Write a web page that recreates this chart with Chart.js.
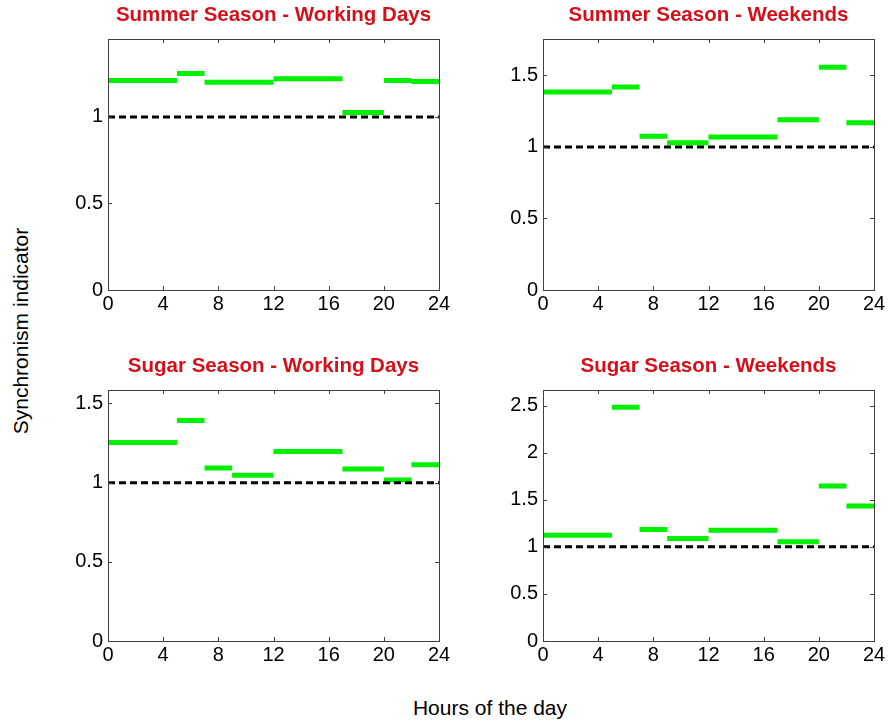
<!DOCTYPE html>
<html>
<head>
<meta charset="utf-8">
<script src="https://cdn.jsdelivr.net/npm/chart.js@4/dist/chart.umd.min.js"></script>
<style>
  body { margin: 0; background: #fff; width: 888px; height: 724px; position: relative; overflow: hidden; font-family: "Liberation Sans", Arial, sans-serif; }
  .box { position: absolute; width: 431px; height: 320px; }
  .ylab { position: absolute; left: 21px; top: 331px; transform: translate(-50%, -50%) rotate(-90deg); font-size: 21px; white-space: nowrap; color: #000; }
  .xlab { position: absolute; left: 490px; top: 708px; transform: translate(-50%, -50%); font-size: 21px; white-space: nowrap; color: #000; }
</style>
</head>
<body>
<div class="box" style="left:58px;top:0px"><canvas id="c1"></canvas></div>
<div class="box" style="left:493px;top:0px"><canvas id="c2"></canvas></div>
<div class="box" style="left:58px;top:351px"><canvas id="c3"></canvas></div>
<div class="box" style="left:493px;top:351px"><canvas id="c4"></canvas></div>
<div class="ylab">Synchronism indicator</div>
<div class="xlab">Hours of the day</div>
<script>
// hour boundaries of the periods
const hourEdges = [0, 5, 7, 9, 12, 17, 20, 22, 24];
const hourTicks = [0, 4, 8, 12, 16, 20, 24];

// synchronism indicator per period
const summerWorking  = [1.21, 1.25, 1.20, 1.20, 1.22, 1.025, 1.21, 1.205];
const summerWeekends = [1.385, 1.42, 1.075, 1.03, 1.07, 1.19, 1.557, 1.17];
const sugarWorking   = [1.254, 1.393, 1.093, 1.046, 1.197, 1.086, 1.017, 1.113];
const sugarWeekends  = [1.123, 2.483, 1.183, 1.088, 1.176, 1.053, 1.646, 1.434];

const titles = ['Summer Season - Working Days', 'Summer Season - Weekends',
                'Sugar Season - Working Days', 'Sugar Season - Weekends'];
const yMax = [1.45, 1.755, 1.585, 2.665];
const reference = 1;

const innerTicks = {
    id: 'innerTicks',
    afterDraw(chart) {
        const ctx = chart.ctx, a = chart.chartArea;
        const xs = chart.scales.x, ys = chart.scales.y;
        ctx.save();
        ctx.strokeStyle = '#404040';
        ctx.lineWidth = 1;
        ctx.strokeRect(a.left + 0.5, a.top + 0.5, a.right - a.left, a.bottom - a.top);
        ctx.beginPath();
        xs.ticks.forEach(t => {
            const px = Math.round(xs.getPixelForValue(t.value)) + 0.5;
            ctx.moveTo(px, a.bottom); ctx.lineTo(px, a.bottom - 4);
            ctx.moveTo(px, a.top); ctx.lineTo(px, a.top + 4);
        });
        ys.ticks.forEach(t => {
            const py = Math.round(ys.getPixelForValue(t.value)) + 0.5;
            ctx.moveTo(a.left, py); ctx.lineTo(a.left + 4, py);
            ctx.moveTo(a.right, py); ctx.lineTo(a.right - 4, py);
        });
        ctx.stroke();
        ctx.restore();
    }
};

const stepData = (vals) => {
    let pts = [];
    vals.forEach((v, i) => {
        pts.push({x: hourEdges[i], y: v});
        pts.push({x: hourEdges[i + 1], y: v});
        pts.push({x: hourEdges[i + 1], y: null});
    });
    return pts;
};

const drawPanel = (id, vals, title, ymax) => {
    new Chart(document.getElementById(id), {
        type: 'line',
        data: {
            datasets: [{
                data: [{x: 0, y: reference}, {x: 24, y: reference}],
                borderColor: '#000',
                borderWidth: 3,
                borderDash: [7, 4],
                pointRadius: 0,
                order: 0
            }, {
                data: stepData(vals),
                borderColor: '#00f000',
                borderWidth: 5,
                borderCapStyle: 'butt',
                pointRadius: 0,
                spanGaps: false,
                order: 1
            }]
        },
        options: {
            responsive: true,
            maintainAspectRatio: false,
            animation: false,
            layout: { autoPadding: false, padding: 0 },
            plugins: {
                legend: { display: false },
                tooltip: { enabled: false },
                title: {
                    display: true,
                    text: title,
                    color: '#d4111b',
                    font: { family: 'Liberation Sans', size: 20.5, weight: 'bold', lineHeight: 1.2 },
                    padding: { top: 3, bottom: 11.4 }
                }
            },
            scales: {
                x: {
                    type: 'linear',
                    min: 0, max: 24,
                    afterBuildTicks: (s) => { s.ticks = hourTicks.map(v => ({value: v})); },
                    afterFit: (s) => { s.height = 30; },
                    grid: { display: false, drawTicks: false },
                    border: { display: false },
                    ticks: { color: '#000', padding: 2, maxRotation: 0, font: { family: 'Liberation Sans', size: 20 } }
                },
                y: {
                    min: 0, max: ymax,
                    afterFit: (s) => { s.width = 50; },
                    grid: { display: false, drawTicks: false },
                    border: { display: false },
                    ticks: {
                        stepSize: 0.5,
                        includeBounds: false,
                        color: '#000',
                        padding: 5,
                        font: { family: 'Liberation Sans', size: 20 },
                        callback: (v) => String(v)
                    }
                },
                // empty right-hand axis, keeps the plot centred under the title
                yRight: {
                    position: 'right',
                    min: 0, max: ymax,
                    afterFit: (s) => { s.width = 50; },
                    grid: { display: false, drawTicks: false },
                    border: { display: false },
                    ticks: { display: false }
                }
            }
        },
        plugins: [innerTicks]
    });
};

drawPanel('c1', summerWorking, titles[0], yMax[0]);
drawPanel('c2', summerWeekends, titles[1], yMax[1]);
drawPanel('c3', sugarWorking, titles[2], yMax[2]);
drawPanel('c4', sugarWeekends, titles[3], yMax[3]);
</script>
</body>
</html>
